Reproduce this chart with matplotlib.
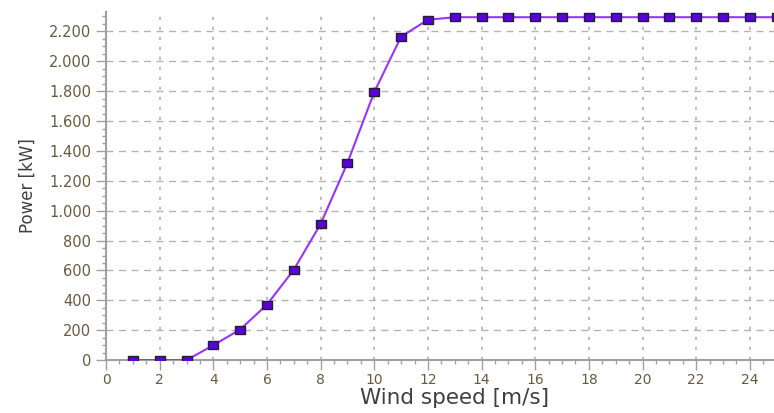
import matplotlib
matplotlib.use("Agg")
import matplotlib.pyplot as plt
from matplotlib.ticker import MultipleLocator, FuncFormatter

wind_speed = [1, 2, 3, 4, 5, 6, 7, 8, 9, 10, 11, 12, 13, 14, 15, 16, 17, 18, 19, 20, 21, 22, 23, 24, 25]
power_kw = [0, 0, 0, 100, 205, 372, 605, 912, 1320, 1795, 2165, 2278, 2295, 2295, 2295, 2295,
            2295, 2295, 2295, 2295, 2295, 2295, 2295, 2295, 2295]

x_label = "Wind speed [m/s]"
y_label = "Power [kW]"

fig = plt.figure(figsize=(7.74, 4.13), dpi=100)
ax = fig.add_axes([0.137, 0.128, 0.863, 0.843])

rect_marker = [(-1.3, -1), (1.3, -1), (1.3, 1), (-1.3, 1), (-1.3, -1)]
ax.plot(wind_speed, power_kw, color="#9933ff", linewidth=1.5, zorder=3,
        marker=rect_marker, markersize=7.3, markerfacecolor="#5a00d8",
        markeredgecolor="#202030", markeredgewidth=1.0)

ax.set_xlim(0, 24.9)
ax.set_ylim(0, 2330)

ax.xaxis.set_major_locator(MultipleLocator(2))
ax.xaxis.set_minor_locator(MultipleLocator(0.5))
ax.yaxis.set_major_locator(MultipleLocator(200))
ax.yaxis.set_minor_locator(MultipleLocator(50))
ax.yaxis.set_major_formatter(FuncFormatter(lambda v, p: f"{int(v):,}".replace(",", ".")))

tick_color = "#6a5a40"
spine_color = "#a0a0a0"
ax.tick_params(axis="both", which="major", direction="out", length=7, width=1,
               color=spine_color, labelcolor=tick_color, labelsize=10)
ax.tick_params(axis="both", which="minor", direction="out", length=3, width=1,
               color=spine_color)
ax.tick_params(axis="x", pad=2)
ax.tick_params(axis="y", labelsize=10.5)

for s in ["top", "right"]:
    ax.spines[s].set_visible(False)
for s in ["left", "bottom"]:
    ax.spines[s].set_color(spine_color)
    ax.spines[s].set_linewidth(1.5)

ax.grid(axis="y", which="major", color="#b4b4aa", linestyle=(0, (5, 4)), linewidth=1)
ax.grid(axis="x", which="major", color="#b4b4aa", linestyle=(0, (2, 4)), linewidth=1.2)
ax.set_axisbelow(True)

ax.set_xlabel(x_label, fontsize=15.5, color="#404040", labelpad=0)
ax.xaxis.set_label_coords(0.522, -0.11, transform=ax.transAxes)
ax.xaxis.label.set_va("center")
ax.set_ylabel(y_label, fontsize=12, color="#404040", labelpad=9)

fig.savefig("out.png", dpi=100)
